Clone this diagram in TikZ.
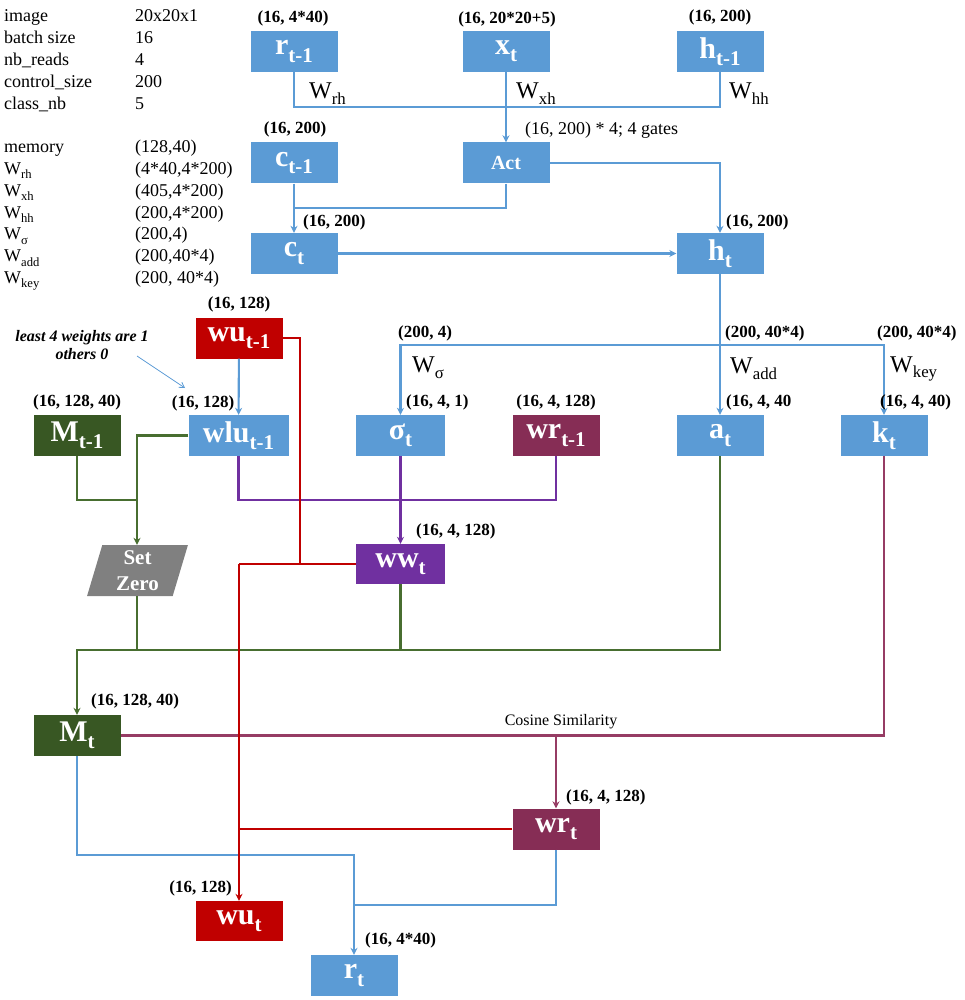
\documentclass[tikz,border=0pt]{standalone}
\usepackage{fontspec}
\setmainfont{Liberation Serif}
\usetikzlibrary{arrows.meta,shapes.geometric}
\newcommand{\lowsub}[1]{\raisebox{-0.24em}{\scalebox{0.7}{#1}}}

\definecolor{boxblue}{RGB}{91,155,213}
\definecolor{boxgreen}{RGB}{56,87,35}
\definecolor{boxred}{RGB}{192,0,0}
\definecolor{boxplum}{RGB}{134,45,85}
\definecolor{boxpurple}{RGB}{112,48,160}
\definecolor{boxgray}{RGB}{128,128,128}
\definecolor{linegreen}{RGB}{72,110,48}
\definecolor{lineplum}{RGB}{150,60,100}

\begin{document}
\begin{tikzpicture}[x=1pt, y=-1pt,
		blk/.style={minimum width=87pt, minimum height=41pt, inner sep=0pt, text=white, font=\fontsize{30}{32}\selectfont\bfseries},
		dimlab/.style={inner sep=0pt, font=\fontsize{17}{20}\selectfont\bfseries},
		wlab/.style={inner sep=0pt, anchor=west, font=\fontsize{24}{26}\selectfont},
		wire/.style={line width=2.1pt},
		>={Stealth[length=7pt, width=7pt]}]
		%%%%% START %%%%%
		
		\useasboundingbox (0,0) rectangle (965,1000);
		
		\node[anchor=base west, inner sep=0pt, font=\fontsize{18}{21.8}\selectfont] (params) at (4,22) {\begin{tabular}[t]{@{}p{131pt}@{}l@{}}
				image & 20x20x1\\
				batch size & 16\\
				nb\_reads & 4\\
				control\_size & 200\\
				class\_nb & 5\\
				& \\
				memory & (128,40)\\
				W\lowsub{rh} & (4*40,4*200)\\
				W\lowsub{xh} & (405,4*200)\\
				W\lowsub{hh} & (200,4*200)\\
				W\lowsub{σ} & (200,4)\\
				W\lowsub{add} & (200,40*4)\\
				W\lowsub{key} & (200, 40*4)
			\end{tabular}};
		
		\node[blk, fill=boxblue] (rprev) at (294,51.5) {r\lowsub{t-1}};
		\node[blk, fill=boxblue] (xt) at (506,51.5) {x\lowsub{t}};
		\node[blk, fill=boxblue] (hprev) at (720,51.5) {h\lowsub{t-1}};
		\node[blk, fill=boxblue, font=\fontsize{20}{22}\selectfont\bfseries] (act) at (506,163) {Act};
		\node[blk, fill=boxblue] (cprev) at (294,163) {c\lowsub{t-1}};
		\node[blk, fill=boxblue] (ct) at (294,253.5) {c\lowsub{t}};
		\node[blk, fill=boxblue] (ht) at (720,253.5) {h\lowsub{t}};
		
		\node[blk, fill=boxred] (wuprev) at (239,338) {wu\lowsub{t-1}};
		\node[blk, fill=boxgreen] (Mprev) at (77,435.5) {M\lowsub{t-1}};
		\node[blk, fill=boxblue, minimum width=100pt] (wluprev) at (238.5,435.5) {wlu\lowsub{t-1}};
		\node[blk, fill=boxblue, minimum width=89pt] (sigmat) at (400.5,435.5) {σ\lowsub{t}};
		\node[blk, fill=boxplum] (wrprev) at (556,435.5) {wr\lowsub{t-1}};
		\node[blk, fill=boxblue] (addt) at (720,435.5) {a\lowsub{t}};
		\node[blk, fill=boxblue] (keyt) at (884,435.5) {k\lowsub{t}};
		
		\node[shape=trapezium, trapezium left angle=77, trapezium right angle=103, trapezium stretches=true, minimum width=101pt, minimum height=51pt, inner sep=0pt, fill=boxgray, text=white, align=center, font=\fontsize{21}{26}\selectfont\bfseries] (setzero) at (137.5,570.5) {Set\\Zero};
		\node[blk, fill=boxpurple, minimum width=89pt, minimum height=40pt] (wwt) at (400.5,564) {ww\lowsub{t}};
		\node[blk, fill=boxgreen] (Mt) at (77,735.5) {M\lowsub{t}};
		\node[blk, fill=boxplum] (wrt) at (556,829) {wr\lowsub{t}};
		\node[blk, fill=boxred, minimum height=40pt] (wut) at (239,921) {wu\lowsub{t}};
		\node[blk, fill=boxblue] (rt) at (354,975.5) {r\lowsub{t}};
		
		\coordinate (wbus) at (506,107);
		\coordinate (cjoin) at (294,208);
		\coordinate (sbus) at (720,345);
		\coordinate (zjoin) at (137,500);
		\coordinate (wjoin) at (400.5,500);
		\coordinate (mbus) at (400.5,650);
		\coordinate (rbend) at (300,564);
		\coordinate (ujoin) at (239,564);
		\coordinate (rjoin) at (354,855);
		\coordinate (rjoin2) at (354,905);
		\coordinate (notefrom) at (137,356);
		\coordinate (notetip) at (185,388);
		
		\draw[wire, boxblue] (rprev.south) |- (wbus) -| (hprev.south);
		\draw[wire, boxblue, ->] (xt) -- (act);
		\draw[wire, boxblue] (act.south) |- (cjoin);
		\draw[wire, boxblue, ->] (cprev) -- (ct);
		\draw[wire, boxblue, ->] (act.east) -| (ht.north);
		\draw[wire, boxblue, ->] (ct) -- (ht);
		\draw[wire, boxblue, ->] (ht) -- (addt);
		\draw[wire, boxblue, ->] (sbus) -| (sigmat.north);
		\draw[wire, boxblue, ->] (sbus) -| (keyt.north);
		\draw[wire, boxblue, ->] (wuprev) -- (wluprev);
		\draw[wire, boxblue, ->] (Mt.south) |- (rjoin) -- (rt.north);
		\draw[wire, boxblue] (wrt.south) |- (rjoin2);
		\draw[boxblue, line width=0.8pt, -{Straight Barb[length=5pt, width=6pt]}] (notefrom) -- (notetip);
		
		\draw[wire, linegreen] (Mprev.south) |- (zjoin);
		\draw[wire, linegreen] (wluprev.west) -| (zjoin);
		\draw[wire, linegreen, ->] (zjoin) -- (zjoin |- setzero.north);
		\draw[wire, linegreen, ->] (addt.south) |- (mbus) -| (Mt.north);
		\draw[wire, linegreen] (zjoin |- setzero.south) -- (zjoin |- mbus);
		\draw[wire, linegreen] (wwt.south) -- (mbus);
		
		\draw[wire, boxpurple] (wluprev.south) |- (wjoin) -| (wrprev.south);
		\draw[wire, boxpurple, line width=2.6pt, ->] (sigmat) -- (wwt);
		
		\draw[wire, lineplum] (Mt.east) -| (keyt.south);
		\draw[wire, lineplum, ->] (wrt.north |- Mt.east) -- (wrt.north);
		
		\draw[wire, boxred] (wuprev.east) -| (rbend);
		\draw[wire, boxred] (wwt.west) -- (ujoin);
		\draw[wire, boxred, ->] (ujoin) -- (wut.north);
		\draw[wire, boxred] (wrt.west) -- (wrt.west -| ujoin);
		
		\node[dimlab] (lrprev) at (293,18) {(16, 4*40)};
		\node[dimlab] (lxt) at (507,19) {(16, 20*20+5)};
		\node[dimlab] (lhprev) at (720,17) {(16, 200)};
		\node[wlab] (wrh) at (309,94) {W\lowsub{rh}};
		\node[wlab] (wxh) at (516,94) {W\lowsub{xh}};
		\node[wlab] (whh) at (729,94) {W\lowsub{hh}};
		\node[dimlab] (lcprev) at (295,129) {(16, 200)};
		\node[anchor=west, inner sep=0pt, font=\fontsize{18}{20}\selectfont] (lact) at (525,130) {(16, 200) * 4; 4 gates};
		\node[dimlab, anchor=west] (lct) at (303,222) {(16, 200)};
		\node[dimlab, anchor=west] (lht) at (726,222) {(16, 200)};
		
		\node[dimlab] (lwuprev) at (239,304) {(16, 128)};
		\node[inner sep=0pt, align=center, font=\fontsize{16}{18}\selectfont\bfseries\itshape] (note) at (82,345) {least 4 weights are 1\\others 0};
		\node[dimlab, anchor=west] (lsig) at (398,333) {(200, 4)};
		\node[wlab] (wsig) at (412,368) {W\lowsub{σ}};
		\node[dimlab, anchor=west] (ladd) at (725,333) {(200, 40*4)};
		\node[wlab] (wadd) at (730,369) {W\lowsub{add}};
		\node[dimlab, anchor=west] (lkey) at (877,333) {(200, 40*4)};
		\node[wlab] (wkey) at (890,369) {W\lowsub{key}};
		
		\node[dimlab] (lMprev) at (77,402) {(16, 128, 40)};
		\node[dimlab] (lwlu) at (203,403) {(16, 128)};
		\node[dimlab, anchor=west] (lsigt) at (406,402) {(16, 4, 1)};
		\node[dimlab] (lwrprev) at (556,402) {(16, 4, 128)};
		\node[dimlab, anchor=west] (laddt) at (726,402) {(16, 4, 40};
		\node[dimlab, anchor=west] (lkeyt) at (880,402) {(16, 4, 40)};
		\node[dimlab, anchor=west] (lwwt) at (416,531) {(16, 4, 128)};
		\node[dimlab, anchor=west] (lMt) at (91,701) {(16, 128, 40)};
		\node[inner sep=0pt, font=\fontsize{16}{18}\selectfont] (lcos) at (561,722) {Cosine Similarity};
		\node[dimlab, anchor=west] (lwrt) at (566,797) {(16, 4, 128)};
		\node[dimlab, anchor=east] (lwut) at (232,888) {(16, 128)};
		\node[dimlab, anchor=west] (lrt) at (365,940) {(16, 4*40)};
		
		%%%%% END %%%%%
	\end{tikzpicture}
\end{document}
